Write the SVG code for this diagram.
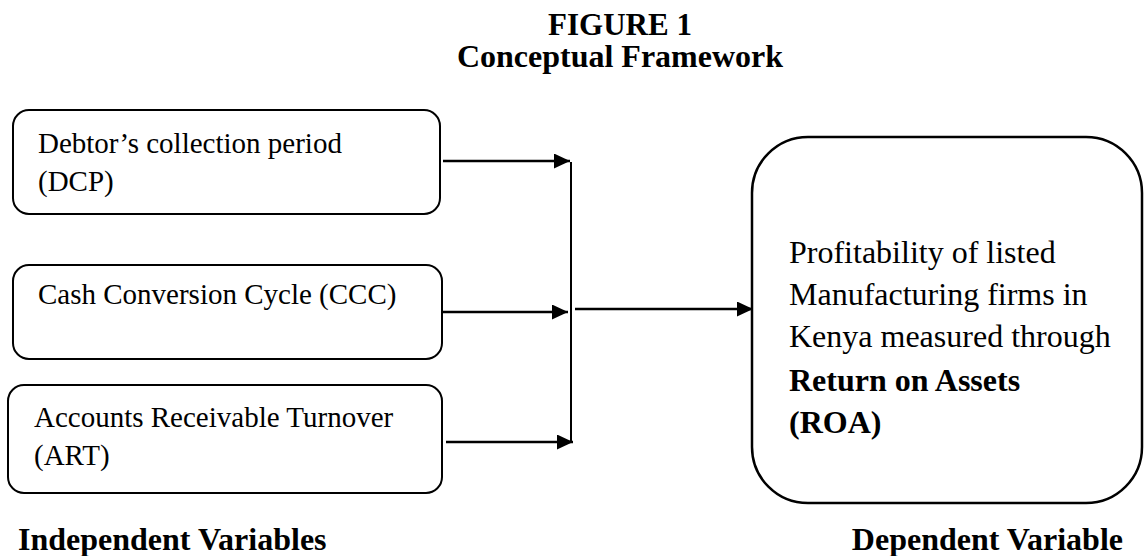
<svg xmlns="http://www.w3.org/2000/svg" width="1144" height="556" viewBox="0 0 1144 556">
<style>
.box{fill:#fff;stroke:#000;stroke-width:2}
.big{fill:#fff;stroke:#000;stroke-width:2.5}
.t{font-family:"Liberation Serif","Times New Roman",serif;fill:#000}
.s29{font-size:29px}
.s32{font-size:32px}
.s31{font-size:31px}
.b{font-weight:bold}
.conn{stroke:#000;stroke-width:2.6;fill:none}
.vl{stroke:#000;stroke-width:2;fill:none}
</style>
<defs>
<marker id="ah" markerUnits="userSpaceOnUse" markerWidth="16" markerHeight="15" refX="16" refY="7.5" orient="auto">
<path d="M0,0 L16,7.5 L0,15 z" fill="#000"/>
</marker>
</defs>
<rect width="1144" height="556" fill="#fff"/>
<g id="title">
<text class="t s31 b" x="620" y="35" text-anchor="middle">FIGURE 1</text>
<text class="t s32 b" x="620" y="67" text-anchor="middle">Conceptual Framework</text>
</g>
<g id="dcp">
<rect class="box" x="13" y="110" width="427" height="104" rx="16" ry="16"/>
<text class="t s29" x="38" y="153">Debtor’s collection period</text>
<text class="t s29" x="38" y="191">(DCP)</text>
</g>
<g id="ccc">
<rect class="box" x="13" y="265" width="429" height="94" rx="16" ry="16"/>
<text class="t s29" x="38" y="304">Cash Conversion Cycle (CCC)</text>
</g>
<g id="art">
<rect class="box" x="8" y="385" width="434" height="108" rx="16" ry="16"/>
<text class="t s29" x="34" y="427">Accounts Receivable Turnover</text>
<text class="t s29" x="34" y="465">(ART)</text>
</g>
<g id="roa">
<rect class="big" x="752" y="137" width="390" height="366" rx="56" ry="56"/>
<text class="t s32" x="789" y="263">Profitability of listed</text>
<text class="t s32" x="789" y="305">Manufacturing firms in</text>
<text class="t s32" x="789" y="347">Kenya measured through</text>
<text class="t s32 b" x="789" y="391">Return on Assets</text>
<text class="t s32 b" x="789" y="433">(ROA)</text>
</g>
<g id="connectors">
<path class="conn" d="M443,161 H570" marker-end="url(#ah)"/>
<path class="conn" d="M442,312 H568" marker-end="url(#ah)"/>
<path class="conn" d="M446,442 H573" marker-end="url(#ah)"/>
<path class="vl" d="M571,162 V443"/>
<path class="conn" d="M575,309 H753" marker-end="url(#ah)"/>
</g>
<g id="labels">
<text class="t s32 b" x="18" y="550">Independent Variables</text>
<text class="t s32 b" x="1123" y="550" text-anchor="end">Dependent Variable</text>
</g>
</svg>
